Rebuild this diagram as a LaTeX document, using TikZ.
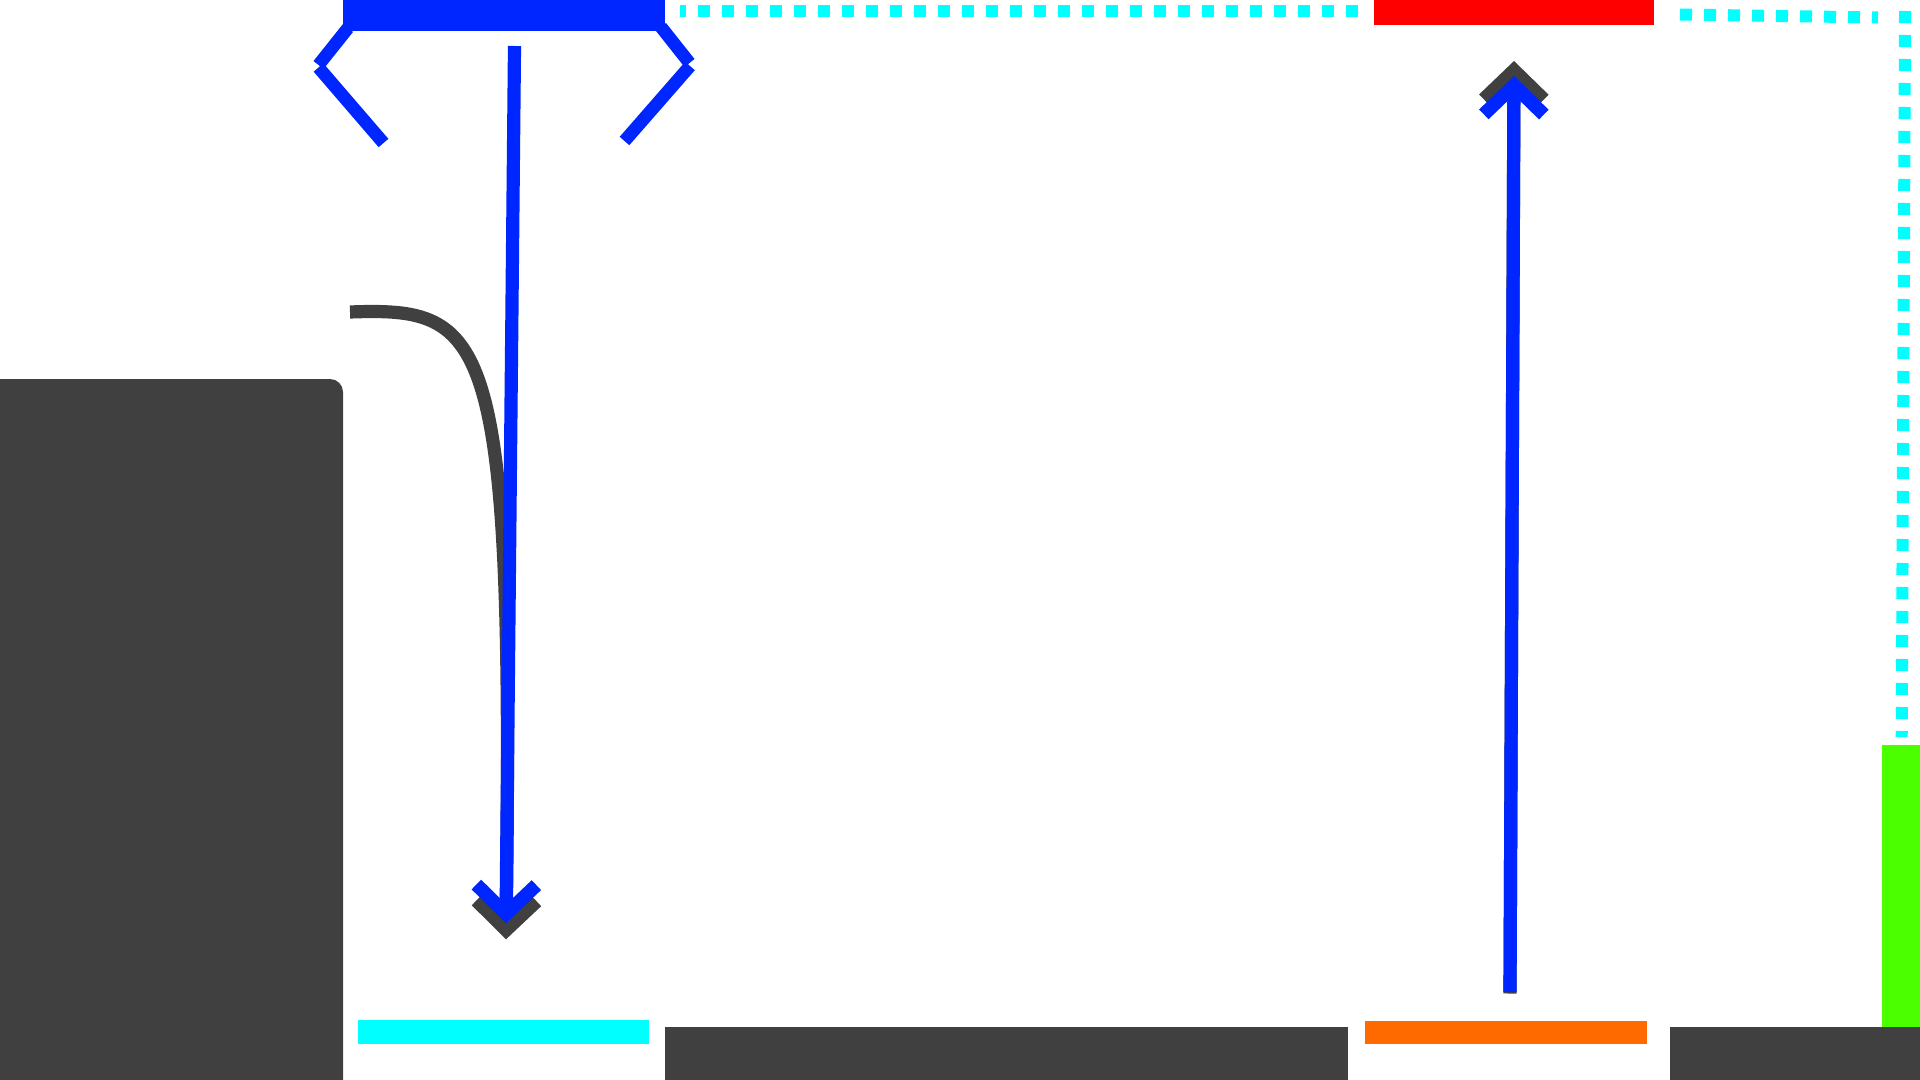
\documentclass[tikz,border=0pt]{standalone}
\usetikzlibrary{arrows.meta}
\definecolor{darkgrey}{HTML}{404040}
\definecolor{paintblue}{HTML}{0026FF}
\definecolor{paintcyan}{HTML}{00FFFF}
\definecolor{paintred}{HTML}{FF0000}
\definecolor{paintorange}{HTML}{FF6A00}
\definecolor{paintgreen}{HTML}{4CFF00}
\tikzset{
	barnode/.style={inner sep=0pt, outer sep=0pt, anchor=north west},
	blueline/.style={paintblue, line width=6.6pt},
	greyline/.style={darkgrey, line width=6.6pt},
	armline/.style={paintblue, line width=6.4pt},
	cyandash/.style={paintcyan, line width=6pt, dash pattern=on 6pt off 6pt},
	chevron/.style={-{Straight Barb[length=14.5pt, width=30pt, line width=6.8pt]}}
}
\begin{document}
\begin{tikzpicture}[x=0.5pt, y=-0.5pt]
	\useasboundingbox (0,0) rectangle (1920,1080);
	
	% Block on the left
	\fill[darkgrey] (0,1080) -- (0,379) -- (330,379) arc[start angle=-90, end angle=0, radius=13] -- (343,1080) -- cycle;
	
	% Bars
	\node[barnode, fill=paintblue, minimum width=161pt, minimum height=15.5pt] (bluebar) at (343,0) {};
	\node[barnode, fill=paintred, minimum width=140pt, minimum height=12.5pt] (redbar) at (1374,0) {};
	\node[barnode, fill=paintcyan, minimum width=145.5pt, minimum height=12pt] (cyanbar) at (358,1020) {};
	\node[barnode, fill=paintorange, minimum width=141pt, minimum height=11.5pt] (orangebar) at (1365,1021) {};
	\node[barnode, fill=paintgreen, minimum width=19pt, minimum height=141pt] (greenbar) at (1882,745) {};
	\node[barnode, fill=darkgrey, minimum width=341.5pt, minimum height=26.5pt] (floorleft) at (665,1027) {};
	\node[barnode, fill=darkgrey, minimum width=125pt, minimum height=26.5pt] (floorright) at (1670,1027) {};
	
	% End points
	\coordinate (armla) at (348,28);
	\coordinate (armlb) at (318.5,65);
	\coordinate (armlc) at (318.5,67.5);
	\coordinate (armld) at (383.5,143);
	\coordinate (armra) at (661,27);
	\coordinate (armrb) at (689.5,63);
	\coordinate (armrc) at (690,66);
	\coordinate (armrd) at (624.5,141);
	\coordinate (downtop) at (514.5,46);
	\coordinate (downtip) at (506,923.3);
	\coordinate (curvestart) at (350,312);
	\coordinate (curvetip) at (506,939.3);
	\coordinate (upbottom) at (1510,992);
	\coordinate (greybottom) at (1510,993.5);
	\coordinate (uptip) at (1514,76);
	\coordinate (greytip) at (1514,61);
	\coordinate (dashonea) at (1358,11.3);
	\coordinate (dashoneb) at (680,11.3);
	\coordinate (dashtwoa) at (1680,14.5);
	\coordinate (dashtwob) at (1878,17.5);
	\coordinate (dashthreea) at (1905,11);
	\coordinate (dashthreeb) at (1901.7,737);
	
	% Dotted lines
	\draw[cyandash] (dashonea) -- (dashoneb);
	\draw[cyandash] (dashtwoa) -- (dashtwob);
	\draw[cyandash] (dashthreea) -- (dashthreeb);
	
	% Grey arrows
	\draw[greyline, chevron] (curvestart) .. controls (488,307) and (514,330) .. (curvetip);
	\draw[greyline, chevron] (greybottom) -- (greytip);
	
	% Blue arrows
	\draw[blueline, chevron] (downtop) -- (downtip);
	\draw[blueline, chevron] (upbottom) -- (uptip);
	
	% Arms under the blue bar
	\draw[armline] (armla) -- (armlb);
	\draw[armline] (armlc) -- (armld);
	\draw[armline] (armra) -- (armrb);
	\draw[armline] (armrc) -- (armrd);
\end{tikzpicture}
\end{document}
